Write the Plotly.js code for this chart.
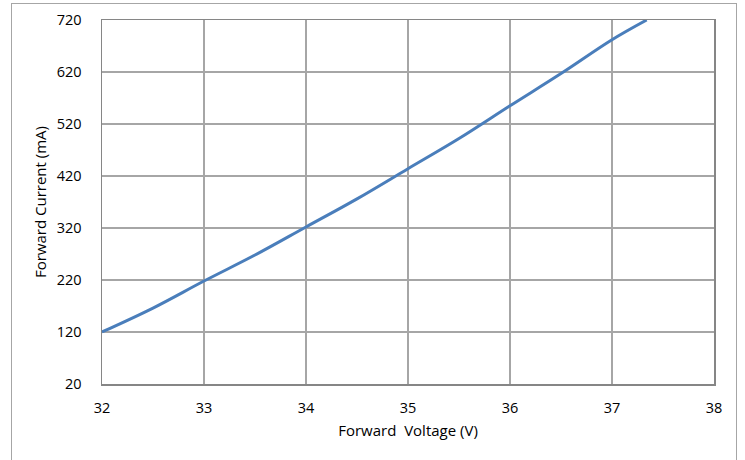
<!DOCTYPE html>
<html><head><meta charset="utf-8">
<script src="https://cdn.plot.ly/plotly-3.0.1.min.js"></script>
<style>html,body{margin:0;padding:0;overflow:hidden;background:#fff}#wrap{position:relative;width:745px;height:460px}#chart{width:745px;height:460px}#frame{position:absolute;left:11px;top:3px;width:724px;height:480px;border:1px solid #a6a6a6;pointer-events:none}</style>
</head><body><div id="wrap"><div id="chart"></div><div id="frame"></div></div>
<script>
var voltage = [32, 32.5, 33, 33.5, 34, 34.5, 35, 35.5, 36, 36.5, 37, 37.34];
var current = [120, 166, 218, 268, 322, 376, 434, 492, 555, 617, 682, 720];
var xTicks = [32, 33, 34, 35, 36, 37, 38];
var yTicks = [20, 120, 220, 320, 420, 520, 620, 720];
var font = {family: 'Open Sans, Liberation Sans, sans-serif', size: 14.5, color: '#000'};
var tfont = {family: 'Open Sans, Liberation Sans, sans-serif', size: 15, color: '#000'};
Plotly.newPlot('chart', [{
  x: voltage, y: current, mode: 'lines', type: 'scatter',
  line: {color: '#4a7ebb', width: 3, shape: 'spline', smoothing: 1}, hoverinfo: 'none'
}], {
  width: 745, height: 460,
  margin: {l: 102, r: 31, t: 20, b: 76},
  paper_bgcolor: '#fff', plot_bgcolor: '#fff',
  showlegend: false, font: font,
  xaxis: {range: [32, 38], tickvals: xTicks, ticktext: xTicks.map(String),
    showgrid: true, gridcolor: '#a6a6a6', gridwidth: 1.5,
    showline: true, linecolor: '#868686', linewidth: 1.5, mirror: true,
    zeroline: false, ticks: 'outside', ticklen: 10, tickcolor: 'rgba(0,0,0,0)',
    tickfont: font,
    title: {text: 'Forward  Voltage (V)', font: tfont, standoff: 9}},
  yaxis: {range: [20, 720], tickvals: yTicks, ticktext: yTicks.map(String),
    showgrid: true, gridcolor: '#a6a6a6', gridwidth: 1.5,
    showline: true, linecolor: '#868686', linewidth: 1.5, mirror: true,
    zeroline: false, ticks: 'outside', ticklen: 16, tickcolor: 'rgba(0,0,0,0)',
    tickfont: font,
    title: {text: 'Forward Current (mA)', font: tfont, standoff: 6}}
}, {staticPlot: true});
</script></body></html>
